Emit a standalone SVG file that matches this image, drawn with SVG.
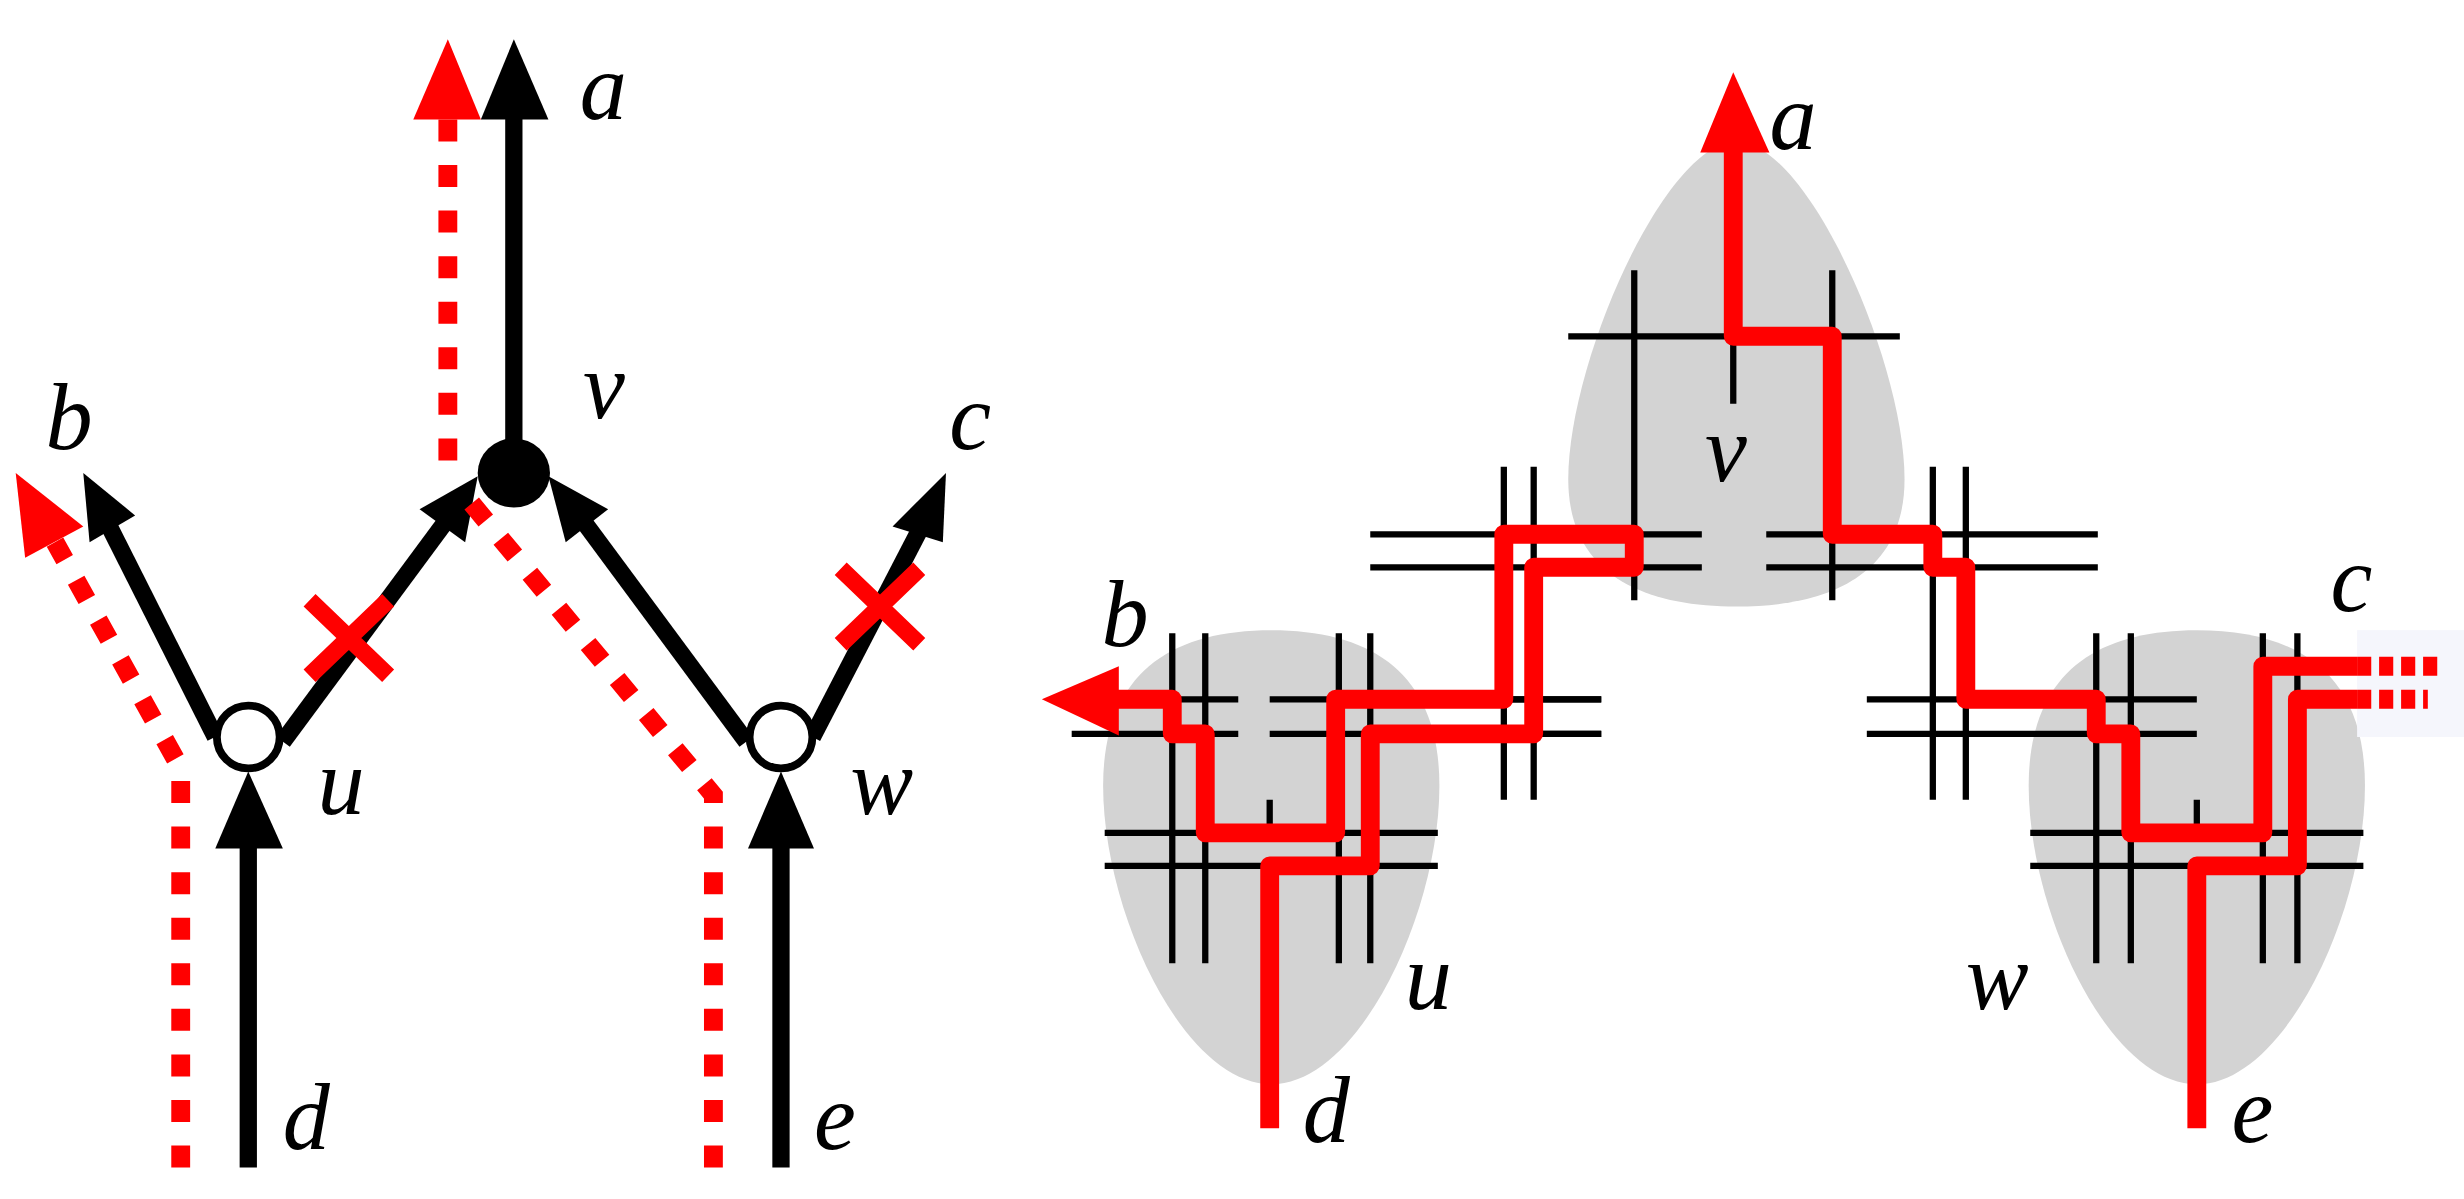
<svg xmlns="http://www.w3.org/2000/svg" width="2464" height="1199" viewBox="0 0 2464 1199">
<style>
.lbl{font-family:"Liberation Serif",serif;font-style:italic;font-size:60px;fill:#000}
.blk{stroke:#000;stroke-width:11;fill:none}
.rd{stroke:#f00;stroke-width:12;fill:none;stroke-dasharray:14 15}
.x{stroke:#f00;stroke-width:11}
.grid{stroke:#000;stroke-width:4;fill:none}
.path{stroke:#f00;stroke-width:12;fill:none;stroke-linejoin:round}
.blob{fill:#d3d3d3}
</style>
<rect width="2464" height="1199" fill="#fff"/>
<g transform="scale(1.5714)">
<g id="connectors">
<line class="rd" x1="285" y1="293" x2="285" y2="76"/>
<polygon points="285,25 263,76 306,76" fill="#f00"/>
<line class="blk" x1="327" y1="301" x2="327" y2="70"/>
<polygon points="327,25 306,76 349,76"/>
<line class="blk" x1="137" y1="469" x2="66" y2="328"/>
<polygon points="53,301 86,328 57,345"/>
<polyline class="rd" points="115,743 115,489 35,345"/>
<polygon points="10,301 53,335 16,355" fill="#f00"/>
<line class="blk" x1="158" y1="743" x2="158" y2="530"/>
<polygon points="158,491 137,540 180,540"/>
<line class="blk" x1="497" y1="743" x2="497" y2="530"/>
<polygon points="497,491 476,540 518,540"/>
<line class="blk" x1="180" y1="472" x2="285" y2="330"/>
<polygon points="304,303 267,324 296,345"/>
<line class="blk" x1="475" y1="472" x2="370" y2="330"/>
<polygon points="349,303 387,324 360,345"/>
<line class="blk" x1="517" y1="469" x2="590" y2="328"/>
<polygon points="602,301 568,335 600,345"/>
<polyline class="rd" points="454,743 454,506 294,313"/>
<path class="x" d="M197,382 L247,430 M247,382 L197,430"/>
<path class="x" d="M535,362 L585,410 M585,362 L535,410"/>
</g>
<g id="node-v"><ellipse cx="327" cy="301" rx="23" ry="22" fill="#000"/><text class="lbl" x="371" y="266">v</text></g>
<g id="node-u"><ellipse cx="158" cy="469" rx="20" ry="20" fill="#fff" stroke="#000" stroke-width="5"/><text class="lbl" x="202" y="518">u</text></g>
<g id="node-w"><ellipse cx="497" cy="469" rx="20" ry="20" fill="#fff" stroke="#000" stroke-width="5"/><text class="lbl" x="541" y="518">w</text></g>
<g id="label-a"><text class="lbl" x="369" y="76">a</text></g>
<g id="label-b"><text class="lbl" x="29" y="286">b</text></g>
<g id="label-c"><text class="lbl" x="604" y="286">c</text></g>
<g id="label-d"><text class="lbl" x="180" y="731">d</text></g>
<g id="label-e"><text class="lbl" x="518" y="731">e</text></g>

<g id="right-panel">
<path class="blob" d="M1105,90 C1150,90 1212,230 1212,305 C1212,365 1165,386 1105,386 C1045,386 998,365 998,305 C998,230 1060,90 1105,90 Z"/>
<path class="blob" d="M809,401 C875,401 916,430 916,500 C916,580 865,690 809,690 C753,690 702,580 702,500 C702,430 743,401 809,401 Z"/>
<path class="blob" d="M1398,401 C1464,401 1505,430 1505,500 C1505,580 1454,690 1398,690 C1342,690 1291,580 1291,500 C1291,430 1332,401 1398,401 Z"/>
<rect x="1500" y="401" width="68" height="68" fill="#f5f6fc"/>
<g class="grid" stroke="#000" stroke-width="4">
<path d="M998,214 H1209 M1040,172 V382 M1166,172 V382 M1103,214 V257"/>
<path d="M872,340 H1083 M872,361 H1083 M957,297 V509 M976,297 V509 M951,445 H1019 M951,467 H1019"/>
<path d="M1124,340 H1335 M1124,361 H1335 M1230,297 V509 M1251,297 V509 M1188,445 H1398 M1188,467 H1398"/>
<path d="M682,445 H788 M682,467 H788 M808,445 H1019 M808,467 H1019 M703,530 H915 M703,551 H915 M746,403 V613 M767,403 V613 M852,403 V613 M872,403 V613 M808,509 V530"/>
<path d="M1292,530 H1504 M1292,551 H1504 M1334,403 V613 M1356,403 V613 M1440,403 V613 M1462,403 V613 M1398,509 V530"/>
</g>
<polyline class="path" points="808,718 808,551 872,551 872,467 976,467 976,361 1040,361 1040,340 957,340 957,445 850,445 850,530 767,530 767,467 746,467 746,445 705,445"/>
<polygon points="663,445 712,424 712,468" fill="#f00"/>
<polyline class="path" points="1103,95 1103,214 1166,214 1166,340 1230,340 1230,361 1251,361 1251,445 1334,445 1334,467 1356,467 1356,530 1440,530 1440,424 1500,424"/>
<polygon points="1103,46 1082,97 1126,97" fill="#f00"/>
<polyline class="path" points="1398,718 1398,551 1462,551 1462,445 1500,445"/>
<path d="M1500,424 H1551 M1500,445 H1545" stroke="#f00" stroke-width="12" stroke-dasharray="9 5"/>
</g>
<g id="labels-right">
<text class="lbl" x="1126" y="95">a</text>
<text class="lbl" x="1085" y="306">v</text>
<text class="lbl" x="701" y="411">b</text>
<text class="lbl" x="1483" y="389">c</text>
<text class="lbl" x="894" y="642">u</text>
<text class="lbl" x="1251" y="642">w</text>
<text class="lbl" x="829" y="727">d</text>
<text class="lbl" x="1420" y="727">e</text>
</g>
</g>
</svg>
